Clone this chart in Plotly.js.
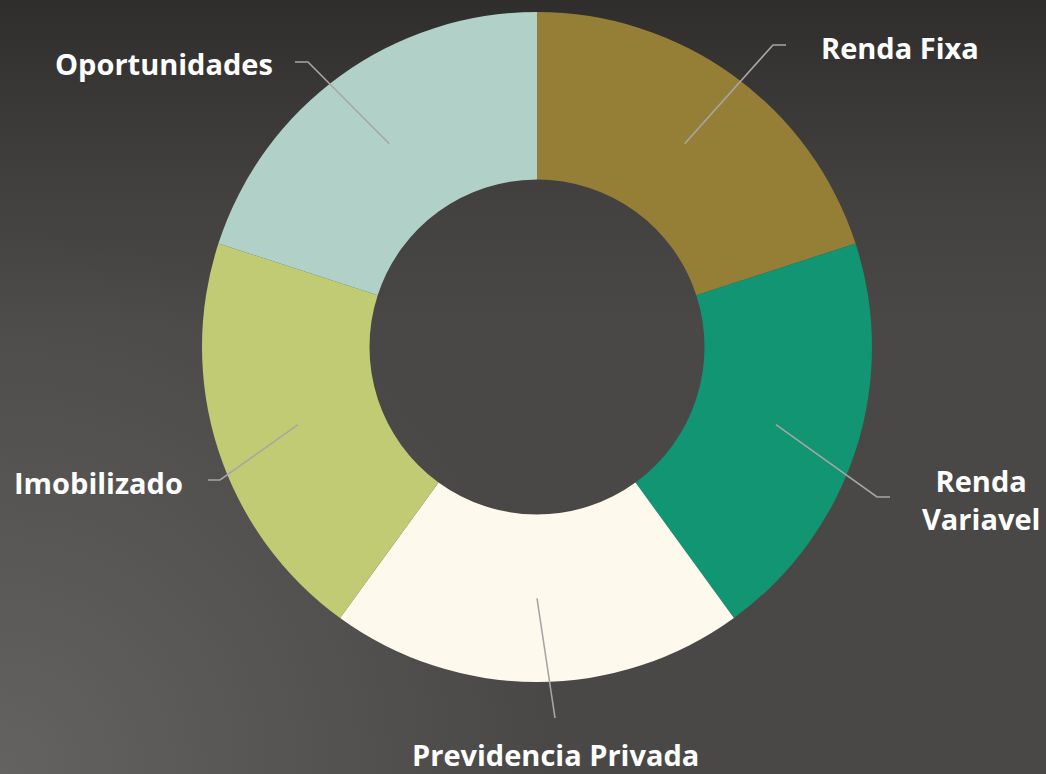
<!DOCTYPE html>
<html>
<head>
<meta charset="utf-8">
<script src="https://cdn.plot.ly/plotly-3.0.1.min.js"></script>
<style>
  html, body { margin: 0; padding: 0; width: 1046px; height: 774px; overflow: hidden; }
  body {
    background:
      radial-gradient(circle at 0% 100%, rgba(112,110,108,0.7) 0%, rgba(112,110,108,0) 42%),
      linear-gradient(to bottom, #302e2d 0%, #434140 25%, #4a4846 42%, #4a4846 100%);
  }
  #chart { width: 1046px; height: 774px; }
</style>
</head>
<body>
<div id="chart"></div>
<script>
// ---- data ----
const categories = ["Renda Fixa", "Renda Variavel", "Previdencia Privada", "Imobilizado", "Oportunidades"];
const values = [20, 20, 20, 20, 20];
const colors = ["#957F37", "#119572", "#FDF9EC", "#C1CB73", "#B1D1C8"];
const labelTexts = ["Renda Fixa", "Renda<br>Variavel", "Previdencia Privada", "Imobilizado", "Oportunidades"];

// ---- layout geometry (pixels) ----
const W = 1046, H = 774;
const cx = 537, cy = 347, R = 335, holeFrac = 0.5;
// label placement: elbow point, line end, text anchor
const labelLayout = [
  { elbow: [773, 45],  end: [786, 45],  text: [819, 47],  xanchor: "left" },
  { elbow: [877, 497], end: [890, 497], text: [981, 499], xanchor: "center" },
  { elbow: null,       end: [555, 718], text: [555, 754], xanchor: "center" },
  { elbow: [220, 480], end: [208, 480], text: [185, 482], xanchor: "right" },
  { elbow: [308, 62],  end: [295, 62],  text: [275, 63],  xanchor: "right" }
];

const total = values.reduce((a, b) => a + b, 0);
const rMid = R * (1 + holeFrac) / 2;
const shapes = [];
const annotations = [];
let cum = 0;
values.forEach((v, i) => {
  const midFrac = (cum + v / 2) / total;
  cum += v;
  const ang = midFrac * 2 * Math.PI; // clockwise from 12 o'clock
  const sx = cx + rMid * Math.sin(ang);
  const sy = cy - rMid * Math.cos(ang);
  const L = labelLayout[i];
  let path = `M ${sx} ${sy}`;
  if (L.elbow) path += ` L ${L.elbow[0]} ${L.elbow[1]}`;
  path += ` L ${L.end[0]} ${L.end[1]}`;
  shapes.push({
    type: "path", xref: "x", yref: "y", path: path,
    line: { color: "#a6a6a6", width: 1.6 }, layer: "above"
  });
  annotations.push({
    xref: "x", yref: "y", x: L.text[0], y: L.text[1],
    text: "<b>" + labelTexts[i] + "</b>", showarrow: false,
    xanchor: L.xanchor, yanchor: "middle", align: "center",
    font: { family: "'Open Sans', Lato, sans-serif", size: 29, color: "#ffffff" }
  });
});

const trace = {
  type: "pie",
  labels: categories,
  values: values,
  hole: holeFrac,
  sort: false,
  direction: "clockwise",
  rotation: 0,
  textinfo: "none",
  hoverinfo: "label+percent",
  marker: { colors: colors, line: { width: 0 } },
  domain: { x: [(cx - R) / W, (cx + R) / W], y: [1 - (cy + R) / H, 1 - (cy - R) / H] },
  showlegend: false
};

const layout = {
  width: W, height: H,
  margin: { l: 0, r: 0, t: 0, b: 0, pad: 0 },
  paper_bgcolor: "rgba(0,0,0,0)",
  plot_bgcolor: "rgba(0,0,0,0)",
  xaxis: { range: [0, W], visible: false, fixedrange: true, domain: [0, 1] },
  yaxis: { range: [H, 0], visible: false, fixedrange: true, domain: [0, 1] },
  shapes: shapes,
  annotations: annotations,
  showlegend: false
};

Plotly.newPlot("chart", [trace], layout, { displayModeBar: false, staticPlot: true });
</script>
</body>
</html>
